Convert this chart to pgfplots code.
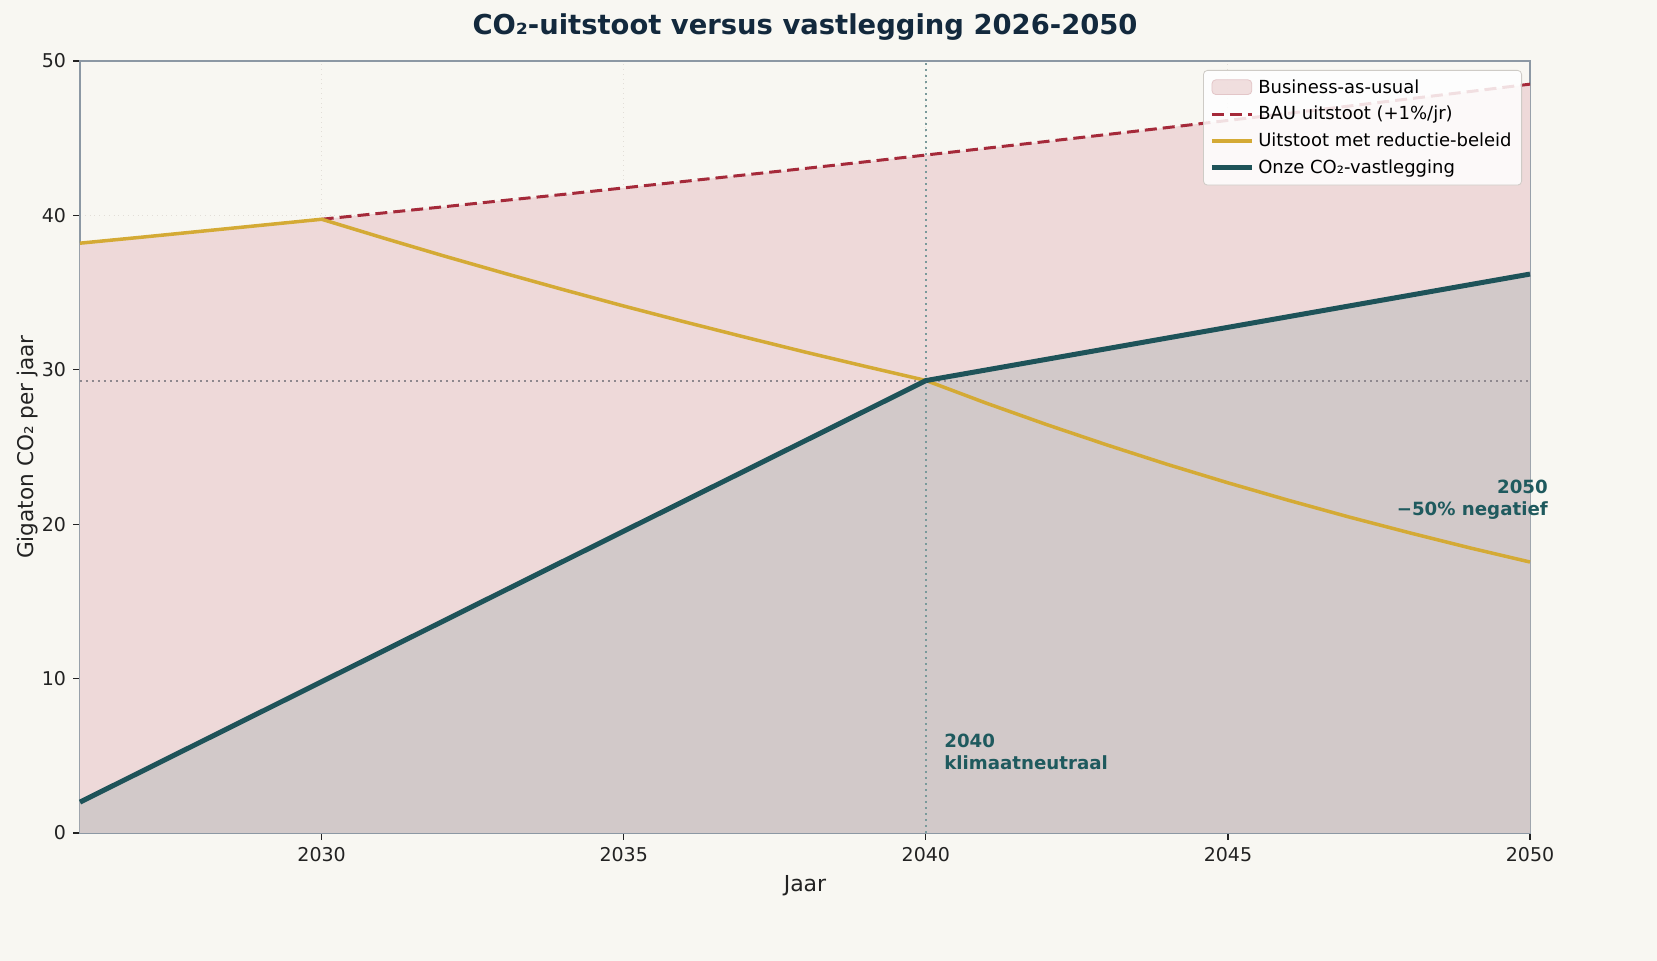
\documentclass[border=0pt]{standalone}
\usepackage{fontspec}
\setmainfont{DejaVu Sans}
\usepackage{pgfplots}
\pgfplotsset{compat=1.18}
\definecolor{bg}{HTML}{F8F7F2}
\definecolor{bauFill}{HTML}{EED9D9}
\definecolor{bauEdge}{HTML}{E3C6C8}
\definecolor{seqFill}{HTML}{D2C9C9}
\definecolor{bauRed}{HTML}{A52A3A}
\definecolor{yel}{HTML}{D4AA35}
\definecolor{grn}{HTML}{1E5359}
\definecolor{titleC}{HTML}{13293D}
\definecolor{annot}{HTML}{1F5A5E}
\definecolor{spine}{HTML}{8C98A4}
\definecolor{gridC}{HTML}{E2DED8}
\definecolor{hline}{HTML}{8E888E}
\definecolor{vline}{HTML}{7A9A9B}
\definecolor{tickC}{HTML}{222222}
\begin{document}
\begin{tikzpicture}
\useasboundingbox (-40pt,-64pt) rectangle (788.5pt,416.5pt);
\fill[bg] (-40pt,-64pt) rectangle (788.5pt,416.5pt);
\begin{axis}[
  scale only axis, width=725pt, height=386pt,
  xmin=2026, xmax=2050, ymin=0, ymax=50,
  xtick={2030,2035,2040,2045,2050}, ytick={0,10,20,30,40,50},
  /pgf/number format/assume math mode=true,
  /pgf/number format/1000 sep={},
  tick label style={font=\fontsize{9.5}{11.5}\selectfont, text=tickC},
  tick align=outside, major tick length=3.5pt,
  tick style={color=tickC, line width=0.6pt},
  xtick pos=bottom, ytick pos=left,
  axis line style={color=spine, line width=0.75pt},
  grid=major, major grid style={color=gridC, dotted, line width=0.5pt},
  clip=false,
  title={CO₂-uitstoot versus vastlegging 2026-2050},
  title style={at={(axis description cs:0.5,1)}, anchor=base, yshift=7pt, inner sep=0pt,
    font=\fontsize{13.7}{16}\selectfont\bfseries, text=titleC},
  xlabel={Jaar},
  xlabel style={at={(axis description cs:0.5,0)}, anchor=north, yshift=-21pt, inner sep=0pt,
    font=\fontsize{11}{13}\selectfont, text=tickC},
  ylabel={Gigaton CO₂ per jaar},
  ylabel style={at={(axis description cs:-0.029,0.5)}, anchor=south, inner sep=0pt,
    font=\fontsize{10.8}{13}\selectfont, text=tickC},
  legend style={at={(1,1)}, anchor=north east, xshift=-4pt, yshift=-4.5pt,
    fill=white, fill opacity=0.85, text opacity=1, draw opacity=1, draw=gridC!80!gray,
    rounded corners=2pt, font=\fontsize{9}{11}\selectfont, row sep=1pt,
    inner xsep=3pt, inner ysep=2.5pt},
  legend cell align=left,
  legend image code/.code={\draw[#1] (0cm,0cm) -- (0.7cm,0cm);},
]
% BAU envelope fill
\addplot[draw=none, fill=bauFill,
  legend image code/.code={\draw[fill=bauFill, draw=bauEdge] (0cm,-0.12cm) rectangle (0.7cm,0.14cm);}]
  coordinates {
  (2026,38.20) (2027,38.58) (2028,38.97) (2029,39.36) (2030,39.75)
  (2031,40.15) (2032,40.55) (2033,40.96) (2034,41.36) (2035,41.78)
  (2036,42.20) (2037,42.62) (2038,43.04) (2039,43.47) (2040,43.91)
  (2041,44.35) (2042,44.79) (2043,45.24) (2044,45.69) (2045,46.15)
  (2046,46.61) (2047,47.08) (2048,47.55) (2049,48.02) (2050,48.50)
  } \closedcycle;
\addlegendentry{Business-as-usual}
% sequestration fill
\addplot[draw=none, fill=seqFill, forget plot]
  coordinates {(2026,2.0) (2040,29.3) (2050,36.2)} \closedcycle;
% reference lines
\addplot[forget plot, color=hline, dotted, line width=1pt]
  coordinates {(2026,29.3) (2050,29.3)};
\addplot[forget plot, color=vline, dotted, line width=1pt]
  coordinates {(2040,0) (2040,50)};
% BAU line
\addplot[color=bauRed, line width=1.5pt, dash pattern=on 6pt off 3pt]
  coordinates {
  (2030,39.75)
  (2031,40.15) (2032,40.55) (2033,40.96) (2034,41.36) (2035,41.78)
  (2036,42.20) (2037,42.62) (2038,43.04) (2039,43.47) (2040,43.91)
  (2041,44.35) (2042,44.79) (2043,45.24) (2044,45.69) (2045,46.15)
  (2046,46.61) (2047,47.08) (2048,47.55) (2049,48.02) (2050,48.50)
  };
\addlegendentry{BAU uitstoot (+1\%/jr)}
% emissions with policy
\addplot[color=yel, line width=1.75pt]
  coordinates {
  (2026,38.20) (2027,38.58) (2028,38.97) (2029,39.36) (2030,39.75)
  (2031,38.56) (2032,37.40) (2033,36.28) (2034,35.19) (2035,34.13)
  (2036,33.11) (2037,32.12) (2038,31.15) (2039,30.22) (2040,29.31)
  (2041,27.84) (2042,26.45) (2043,25.13) (2044,23.87) (2045,22.68)
  (2046,21.55) (2047,20.47) (2048,19.45) (2049,18.47) (2050,17.55)
  };
\addlegendentry{Uitstoot met reductie-beleid}
% sequestration line
\addplot[color=grn, line width=2.5pt]
  coordinates {(2026,2.0) (2040,29.3) (2050,36.2)};
\addlegendentry{Onze CO₂-vastlegging}
% annotations
\node[anchor=south west, inner sep=0pt, align=left, text=annot,
  font=\fontsize{9.1}{11}\selectfont\bfseries] at (axis cs:2040.3,4.1) {2040\\klimaatneutraal};
\node[anchor=south east, inner sep=0pt, align=right, text=annot,
  font=\fontsize{9.1}{11}\selectfont\bfseries] at (axis cs:2050.3,20.3) {2050\\−50\% negatief};
\end{axis}
\end{tikzpicture}
\end{document}
